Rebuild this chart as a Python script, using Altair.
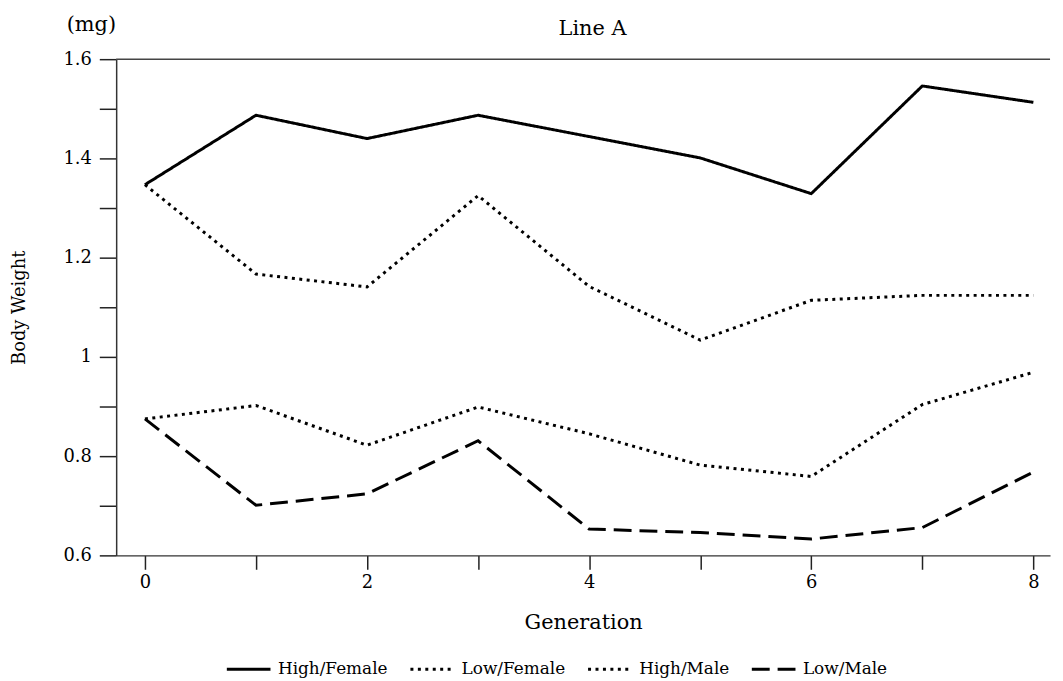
import altair as alt
import pandas as pd

generations = [0, 1, 2, 3, 4, 5, 6, 7, 8]
high_female = [1.347, 1.487, 1.440, 1.487, 1.444, 1.401, 1.329, 1.546, 1.513]
low_female = [1.347, 1.167, 1.141, 1.325, 1.142, 1.034, 1.114, 1.124, 1.124]
high_male = [0.875, 0.902, 0.822, 0.899, 0.845, 0.782, 0.759, 0.904, 0.969]
low_male = [0.875, 0.701, 0.724, 0.831, 0.653, 0.646, 0.633, 0.656, 0.768]

series_names = ["High/Female", "Low/Female", "High/Male", "Low/Male"]
series_values = [high_female, low_female, high_male, low_male]
dashes = [[1, 0], [3, 4.5], [3, 4.5], [18, 8]]

rows = []
for name, vals in zip(series_names, series_values):
    for g, v in zip(generations, vals):
        rows.append({"Generation": g, "Weight": v, "Series": name})
df = pd.DataFrame(rows)

FONT = "DejaVu Serif"
FS = 18
FS_T = 21
W, H = 941, 500

lines = alt.Chart(df).mark_line(color="black", strokeWidth=3, strokeCap="butt").encode(
    x=alt.X("Generation:Q",
            scale=alt.Scale(domain=[-0.259, 8.15], nice=False, zero=False),
            axis=alt.Axis(values=generations,
                          labelExpr="datum.value % 2 == 0 ? datum.label : ''",
                          title="Generation", tickSize=14, labelPadding=4,
                          titleFontSize=FS_T,
                          titleY=68, titleBaseline="middle")),
    y=alt.Y("Weight:Q",
            scale=alt.Scale(domain=[0.6, 1.6], nice=False, zero=False),
            axis=alt.Axis(values=[0.6, 0.7, 0.8, 0.9, 1.0, 1.1, 1.2, 1.3, 1.4, 1.5, 1.6],
                          labelExpr="round(datum.value*10) % 2 == 0 ? format(datum.value, '.1~f') : ''",
                          title="Body Weight", tickSize=17, labelPadding=8,
                          titleX=-97, titleY=250, titleAngle=-90,
                          titleAlign="center", titleBaseline="middle")),
    strokeDash=alt.StrokeDash("Series:N",
                              scale=alt.Scale(domain=series_names, range=dashes),
                              legend=alt.Legend(orient="none", legendX=110, legendY=591,
                                                direction="horizontal", title=None,
                                                symbolType="stroke", symbolSize=1936,
                                                symbolStrokeWidth=3, symbolStrokeColor="black",
                                                labelFont=FONT, labelFontSize=17, labelColor="black",
                                                columnPadding=16, labelOffset=6, padding=0)),
    detail="Series:N",
)

frame_top = alt.Chart(alt.Data(values=[{}])).mark_rule(color="#444", strokeWidth=1.5).encode(
    x=alt.value(0), x2=alt.value(W), y=alt.value(0)
)

title_txt = alt.Chart(alt.Data(values=[{}])).mark_text(
    font=FONT, fontSize=FS_T, color="black", align="center", baseline="middle"
).encode(x=alt.value(480), y=alt.value(-30), text=alt.value("Line A"))

unit_txt = alt.Chart(alt.Data(values=[{}])).mark_text(
    font=FONT, fontSize=FS_T, color="black", align="center", baseline="middle"
).encode(x=alt.value(-25), y=alt.value(-34), text=alt.value("(mg)"))

chart = alt.layer(lines, frame_top, title_txt, unit_txt).properties(
    width=W, height=H,
    autosize="none",
    padding={"left": 109, "top": 49, "right": 5, "bottom": 122},
).configure_view(stroke=None).configure_axis(
    grid=False, domainColor="#333", domainWidth=1.5, tickColor="#222", tickWidth=1.5,
    labelFont=FONT, labelFontSize=FS, labelColor="black",
    titleFont=FONT, titleFontSize=FS, titleColor="black", titleFontWeight="normal",
)

chart.save("out.html", embed_options={"renderer": "svg", "actions": False})
